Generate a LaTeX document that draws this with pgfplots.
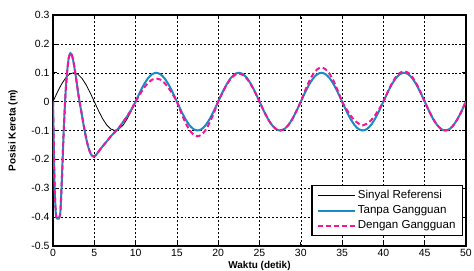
\documentclass[border=0pt]{standalone}
\usepackage{fontspec}
\setmainfont{Liberation Sans}
\usepackage{pgfplots}
\pgfplotsset{compat=1.18}
\definecolor{cblue}{RGB}{25,140,200}
\definecolor{cpink}{RGB}{245,20,150}
\begin{document}
\begin{tikzpicture}
\begin{axis}[
  at={(0,0)}, anchor=south west,
  scale only axis, width=413bp, height=231bp,
  xmin=0, xmax=50, ymin=-0.5, ymax=0.3,
  xtick={0,5,...,50},
  ytick={-0.5,-0.4,-0.3,-0.2,-0.1,0,0.1,0.2,0.3},
  yticklabels={-0.5,-0.4,-0.3,-0.2,-0.1,0,0.1,0.2,0.3},
  /pgf/number format/assume math mode=true,
  tick label style={font=\fontsize{10.5}{12}\selectfont},
  grid=major,
  grid style={black, line width=0.5pt, dash pattern=on 2pt off 2pt},
  axis line style={black, line width=1.2pt},
  major tick style={black, line width=0.7pt},
  major tick length=4bp,
  tick align=inside,
  xlabel={\textbf{Waktu (detik)}},
  ylabel={\textbf{Posisi Kereta (m)}},
  label style={font=\fontsize{10}{12}\selectfont},
  xlabel style={at={(axis description cs:0.5,-0.052)}, anchor=north},
  ylabel style={at={(axis description cs:-0.097,0.5)}, anchor=center},
  legend style={at={(0.993,0.043)}, anchor=south east, draw=black, line width=1.2pt,
     font=\fontsize{11.6}{13}\selectfont, row sep=1.5pt, inner xsep=5pt, inner ysep=3pt},
  legend cell align=left,
  legend image code/.code={\draw[#1] (0cm,0cm) -- (1.3cm,0cm);},
]
\addplot[black, line width=0.8pt] coordinates {
(0,0)(0.5,0.0309)(1,0.0588)(1.5,0.0809)(2,0.0951)(2.5,0.1)(3,0.0951)(3.5,0.0809)(4,0.0588)(4.5,0.0309)(5,0)
(5.5,-0.0309)(6,-0.0588)(6.5,-0.0809)(7,-0.0951)(7.5,-0.1)(8,-0.0951)(8.5,-0.0809)(9,-0.0588)(9.5,-0.0309)(10,0)
(10.5,0.0309)(11,0.0588)(11.5,0.0809)(12,0.0951)(12.5,0.1)(13,0.0951)(13.5,0.0809)(14,0.0588)(14.5,0.0309)(15,0)
(15.5,-0.0309)(16,-0.0588)(16.5,-0.0809)(17,-0.0951)(17.5,-0.1)(18,-0.0951)(18.5,-0.0809)(19,-0.0588)(19.5,-0.0309)(20,0)
(20.5,0.0309)(21,0.0588)(21.5,0.0809)(22,0.0951)(22.5,0.1)(23,0.0951)(23.5,0.0809)(24,0.0588)(24.5,0.0309)(25,0)
(25.5,-0.0309)(26,-0.0588)(26.5,-0.0809)(27,-0.0951)(27.5,-0.1)(28,-0.0951)(28.5,-0.0809)(29,-0.0588)(29.5,-0.0309)(30,0)
(30.5,0.0309)(31,0.0588)(31.5,0.0809)(32,0.0951)(32.5,0.1)(33,0.0951)(33.5,0.0809)(34,0.0588)(34.5,0.0309)(35,0)
(35.5,-0.0309)(36,-0.0588)(36.5,-0.0809)(37,-0.0951)(37.5,-0.1)(38,-0.0951)(38.5,-0.0809)(39,-0.0588)(39.5,-0.0309)(40,0)
(40.5,0.0309)(41,0.0588)(41.5,0.0809)(42,0.0951)(42.5,0.1)(43,0.0951)(43.5,0.0809)(44,0.0588)(44.5,0.0309)(45,0)
(45.5,-0.0309)(46,-0.0588)(46.5,-0.0809)(47,-0.0951)(47.5,-0.1)(48,-0.0951)(48.5,-0.0809)(49,-0.0588)(49.5,-0.0309)(50,0)
};
\addlegendentry{Sinyal Referensi}
\addplot[cblue, line width=2pt, smooth, tension=0.4] coordinates {
(0,0)(0.1,-0.15)(0.2,-0.3)(0.35,-0.39)(0.5,-0.405)(0.7,-0.405)(0.9,-0.38)(1.1,-0.25)(1.3,-0.1)(1.5,0.02)(1.7,0.1)(1.9,0.15)(2.1,0.168)(2.3,0.16)(2.5,0.135)(2.8,0.08)(3.1,0.02)(3.4,-0.03)(3.7,-0.08)(4.0,-0.125)(4.3,-0.16)(4.6,-0.183)(4.9,-0.19)(5.2,-0.185)(5.6,-0.17)(6,-0.155)(6.5,-0.138)(7,-0.12)(7.5,-0.105)(8,-0.09)(8.5,-0.07)(9,-0.05)(9.5,-0.027)(10,0)
(10.5,0.0309)(11,0.0588)(11.5,0.0809)(12,0.0951)(12.5,0.1)(13,0.0951)(13.5,0.0809)(14,0.0588)(14.5,0.0309)(15,0)
(15.5,-0.0309)(16,-0.0588)(16.5,-0.0809)(17,-0.0951)(17.5,-0.1)(18,-0.0951)(18.5,-0.0809)(19,-0.0588)(19.5,-0.0309)(20,0)
(20.5,0.0309)(21,0.0588)(21.5,0.0809)(22,0.0951)(22.5,0.1)(23,0.0951)(23.5,0.0809)(24,0.0588)(24.5,0.0309)(25,0)
(25.5,-0.0309)(26,-0.0588)(26.5,-0.0809)(27,-0.0951)(27.5,-0.1)(28,-0.0951)(28.5,-0.0809)(29,-0.0588)(29.5,-0.0309)(30,0)
(30.5,0.0309)(31,0.0588)(31.5,0.0809)(32,0.0951)(32.5,0.1)(33,0.0951)(33.5,0.0809)(34,0.0588)(34.5,0.0309)(35,0)
(35.5,-0.0309)(36,-0.0588)(36.5,-0.0809)(37,-0.0951)(37.5,-0.1)(38,-0.0951)(38.5,-0.0809)(39,-0.0588)(39.5,-0.0309)(40,0)
(40.5,0.0309)(41,0.0588)(41.5,0.0809)(42,0.0951)(42.5,0.1)(43,0.0951)(43.5,0.0809)(44,0.0588)(44.5,0.0309)(45,0)
(45.5,-0.0309)(46,-0.0588)(46.5,-0.0809)(47,-0.0951)(47.5,-0.1)(48,-0.0951)(48.5,-0.0809)(49,-0.0588)(49.5,-0.0309)(50,0)
};
\addlegendentry{Tanpa Gangguan}
\addplot[cpink, line width=2pt, dash pattern=on 5pt off 3pt, smooth, tension=0.4] coordinates {
(0,0)(0.1,-0.15)(0.2,-0.3)(0.35,-0.39)(0.5,-0.405)(0.7,-0.405)(0.9,-0.38)(1.1,-0.25)(1.3,-0.1)(1.5,0.02)(1.7,0.1)(1.9,0.15)(2.1,0.168)(2.3,0.16)(2.5,0.135)(2.8,0.08)(3.1,0.02)(3.4,-0.03)(3.7,-0.08)(4.0,-0.125)(4.3,-0.16)(4.6,-0.183)(4.9,-0.19)(5.2,-0.185)(5.6,-0.17)(6,-0.155)(6.5,-0.138)(7,-0.12)(7.5,-0.105)(8,-0.09)(8.5,-0.07)(9,-0.05)(9.5,-0.027)(10,0)
(10.5,0.0247)(11,0.0470)(11.5,0.0647)(12,0.0761)(12.5,0.08)(13,0.0761)(13.5,0.0647)(14,0.0470)(14.5,0.0247)(15,0)
(15.5,-0.0371)(16,-0.0706)(16.5,-0.0971)(17,-0.1141)(17.5,-0.12)(18,-0.1141)(18.5,-0.0971)(19,-0.0706)(19.5,-0.0371)(20,0)
(20.5,0.0300)(21,0.0570)(21.5,0.0785)(22,0.0922)(22.5,0.097)(23,0.0922)(23.5,0.0785)(24,0.0570)(24.5,0.0300)(25,0)
(25.5,-0.0309)(26,-0.0588)(26.5,-0.0809)(27,-0.0951)(27.5,-0.1)(28,-0.0951)(28.5,-0.0809)(29,-0.0588)(29.5,-0.0309)(30,0)
(30.5,0.0365)(31,0.0694)(31.5,0.0955)(32,0.1122)(32.5,0.118)(33,0.1122)(33.5,0.0955)(34,0.0694)(34.5,0.0365)(35,0)
(35.5,-0.0247)(36,-0.0470)(36.5,-0.0647)(37,-0.0761)(37.5,-0.082)(38,-0.0761)(38.5,-0.0647)(39,-0.0470)(39.5,-0.0247)(40,0)
(40.5,0.0324)(41,0.0617)(41.5,0.0849)(42,0.0999)(42.5,0.105)(43,0.0999)(43.5,0.0849)(44,0.0617)(44.5,0.0324)(45,0)
(45.5,-0.0309)(46,-0.0588)(46.5,-0.0809)(47,-0.0951)(47.5,-0.1)(48,-0.0951)(48.5,-0.0809)(49,-0.0588)(49.5,-0.0309)(50,0.003)
};
\addlegendentry{Dengan Gangguan}
\end{axis}
\pgfresetboundingbox
\path[use as bounding box] (-53bp,-25bp) rectangle (421bp,246bp);
\end{tikzpicture}
\end{document}
